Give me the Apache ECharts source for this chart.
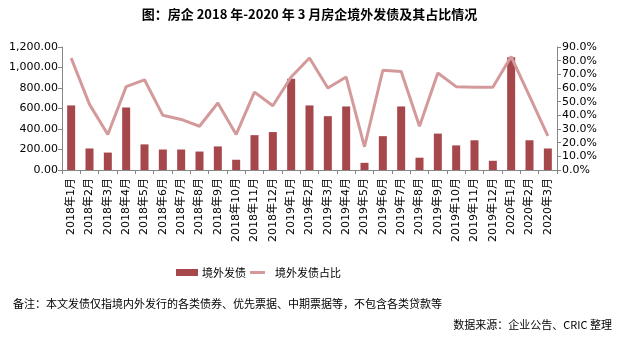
<!DOCTYPE html>
<html>
<head>
<meta charset="utf-8">
<script src="https://cdn.jsdelivr.net/npm/echarts@6/dist/echarts.min.js"></script>
<style>
html,body{margin:0;padding:0;background:#fff;}
#c{width:619px;height:340px;}
</style>
</head>
<body>
<div id="c"></div>
<script>
const categories = ['2018年1月','2018年2月','2018年3月','2018年4月','2018年5月','2018年6月','2018年7月','2018年8月','2018年9月','2018年10月','2018年11月','2018年12月','2019年1月','2019年2月','2019年3月','2019年4月','2019年5月','2019年6月','2019年7月','2019年8月','2019年9月','2019年10月','2019年11月','2019年12月','2020年1月','2020年2月','2020年3月'];
const overseasDebt = [630,210,170,610,250,200,200,180,230,100,340,370,890,630,525,620,70,330,620,120,355,240,290,90,1100,290,210];
const overseasShare = [82,48,26,61,66,40,37,32,49,26,57,47,68,82,60,68,17,73,72,32,71,61,60.5,60.5,83,54,25];
const leftTicks = [0,200,400,600,800,1000,1200];
const rightTicks = [0,10,20,30,40,50,60,70,80,90];

const font = "'DejaVu Sans','Noto Sans CJK SC',sans-serif";
const cjk = "'Noto Sans CJK SC',sans-serif";
const axisColor = '#868686';

const chart = echarts.init(document.getElementById('c'));
chart.setOption({
  animation: false,
  backgroundColor: '#fff',
  title: [{
    text: '图：房企 2018 年-2020 年 3 月房企境外发债及其占比情况',
    left: 'center', top: 3,
    textStyle: {fontFamily: "'Noto Sans CJK SC','Liberation Serif',serif", fontSize: 13, fontWeight: 'bold', color: '#000'}
  }],
  graphic: [
    {type: 'text', left: 13, top: 298, style: {text: '备注：本文发债仅指境内外发行的各类债券、优先票据、中期票据等，不包含各类贷款等', font: "11px 'Noto Sans CJK SC'", fill: '#000'}},
    {type: 'text', right: 7, top: 319, style: {text: '数据来源：企业公告、CRIC 整理', font: "11px 'Noto Sans CJK SC'", fill: '#000'}}
  ],
  legend: [{
    top: 262, left: 171,
    itemWidth: 22, itemHeight: 7, itemGap: 5,
    textStyle: {fontFamily: cjk, fontSize: 11, color: '#000', padding: [0,0,0,-1]},
    data: [{name: '境外发债', icon: 'rect'}]
  }, {
    top: 262, left: 245,
    itemWidth: 15, itemHeight: 3, itemGap: 5,
    textStyle: {fontFamily: cjk, fontSize: 11, color: '#000', padding: [0,0,0,5]},
    data: [{name: '境外发债占比', icon: 'rect'}]
  }],
  grid: {left: 62, right: 62, top: 47, bottom: 170},
  xAxis: {
    type: 'category',
    data: categories,
    boundaryGap: true,
    axisLine: {lineStyle: {color: axisColor}},
    axisTick: {show: true, length: 4, lineStyle: {color: axisColor}},
    axisLabel: {rotate: 90, interval: 0, fontFamily: font, fontSize: 11, color: '#000', margin: 8}
  },
  yAxis: [{
    type: 'value', min: leftTicks[0], max: leftTicks[leftTicks.length-1], interval: 200,
    axisLine: {show: true, lineStyle: {color: axisColor}},
    axisTick: {show: true, length: 4, lineStyle: {color: axisColor}},
    splitLine: {show: false},
    axisLabel: {fontFamily: font, fontSize: 11, color: '#000', margin: 4,
      formatter: v => v.toLocaleString('en-US', {minimumFractionDigits: 2, maximumFractionDigits: 2})}
  }, {
    type: 'value', min: rightTicks[0], max: rightTicks[rightTicks.length-1], interval: 10,
    position: 'right',
    axisLine: {show: true, lineStyle: {color: axisColor}},
    axisTick: {show: true, length: 4, lineStyle: {color: axisColor}},
    splitLine: {show: false},
    axisLabel: {fontFamily: font, fontSize: 11, color: '#000', margin: 5,
      formatter: v => v.toFixed(1) + '%'}
  }],
  series: [{
    name: '境外发债', type: 'bar', data: overseasDebt, barWidth: 8,
    itemStyle: {color: '#A5474B'}
  }, {
    name: '境外发债占比', type: 'line', yAxisIndex: 1, data: overseasShare,
    symbol: 'none', smooth: false,
    lineStyle: {color: '#D49A9B', width: 3},
    itemStyle: {color: '#D49A9B'}
  }]
});
</script>
</body>
</html>
